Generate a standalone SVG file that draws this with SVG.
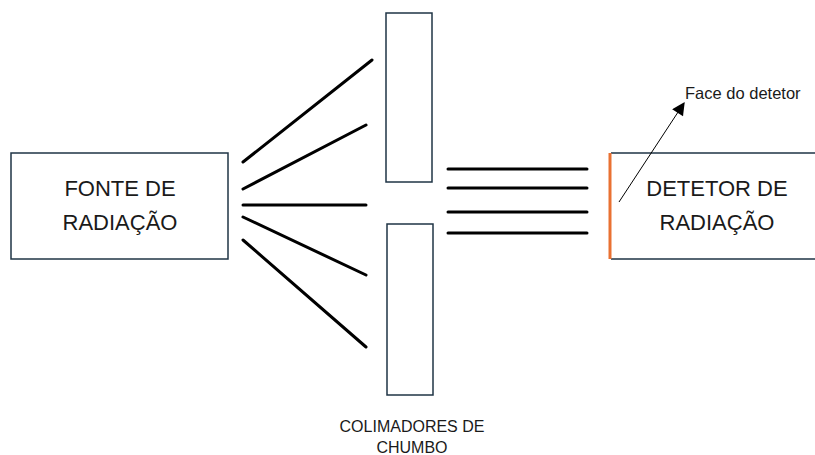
<svg xmlns="http://www.w3.org/2000/svg" width="815" height="455" viewBox="0 0 815 455">
<style>
.box{fill:#fff;stroke:#1f3445;stroke-width:1.5}
.ray{stroke:#000;stroke-width:3;stroke-linecap:round}
.t{font-family:"Liberation Sans",Arial,sans-serif;fill:#1a1a1a;text-anchor:middle}
</style>
<defs>
<marker id="ah" viewBox="0 0 10 10" refX="9" refY="5" markerWidth="14" markerHeight="13" markerUnits="userSpaceOnUse" orient="auto">
<path d="M0,0 L10,5 L0,10 z" fill="#000"/>
</marker>
</defs>
<rect width="815" height="455" fill="#fff"/>
<g id="fonte">
<rect class="box" x="11" y="153" width="217" height="106"/>
<text class="t" x="120" y="196" font-size="22">FONTE DE</text>
<text class="t" x="120" y="230" font-size="22">RADIAÇÃO</text>
</g>
<g id="colimador-superior">
<rect class="box" x="386" y="13" width="46" height="169"/>
</g>
<g id="colimador-inferior">
<rect class="box" x="387" y="224" width="46" height="171"/>
</g>
<g id="colimadores-label">
<text class="t" x="412" y="432" font-size="16">COLIMADORES DE</text>
<text class="t" x="412" y="453" font-size="16">CHUMBO</text>
</g>
<g id="detetor">
<path d="M611,153 H815 M611,259 H815" stroke="#1f3445" stroke-width="1.5" fill="none"/>
<line x1="610" y1="153" x2="610" y2="259" stroke="#e97132" stroke-width="3"/>
<text class="t" x="717" y="196" font-size="22">DETETOR DE</text>
<text class="t" x="717" y="230" font-size="22">RADIAÇÃO</text>
</g>
<g id="conectores">
<line class="ray" x1="243" y1="162" x2="372" y2="60"/>
<line class="ray" x1="243" y1="189" x2="366" y2="125"/>
<line class="ray" x1="243" y1="205" x2="366" y2="205"/>
<line class="ray" x1="243" y1="217" x2="366" y2="275"/>
<line class="ray" x1="243" y1="240" x2="366" y2="347"/>
<line class="ray" x1="448" y1="169" x2="587" y2="169"/>
<line class="ray" x1="448" y1="188" x2="587" y2="188"/>
<line class="ray" x1="448" y1="212" x2="587" y2="212"/>
<line class="ray" x1="448" y1="233" x2="587" y2="233"/>
<line x1="619" y1="202" x2="684" y2="103" stroke="#000" stroke-width="1" marker-end="url(#ah)"/>
</g>
<g id="face-label">
<text class="t" x="685" y="99" font-size="16.5" style="text-anchor:start">Face do detetor</text>
</g>
</svg>
